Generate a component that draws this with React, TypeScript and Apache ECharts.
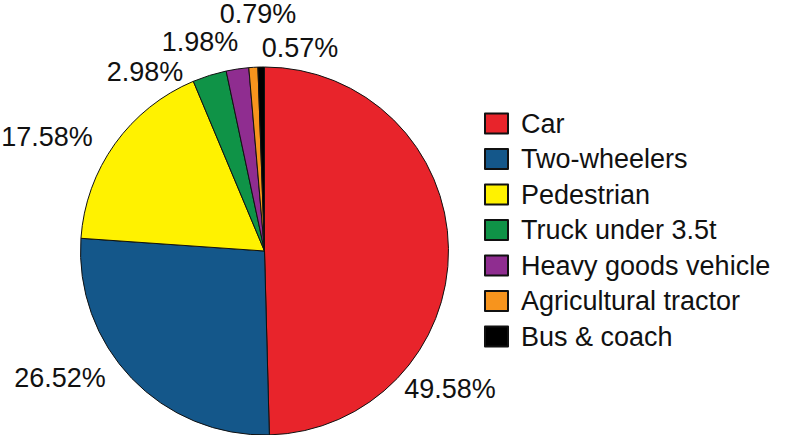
import React, { useEffect, useRef } from "react";
import * as echarts from "echarts";

const categories = [
  "Car",
  "Two-wheelers",
  "Pedestrian",
  "Truck under 3.5t",
  "Heavy goods vehicle",
  "Agricultural tractor",
  "Bus & coach",
];
const shares = [49.58, 26.52, 17.58, 2.98, 1.98, 0.79, 0.57];
const colors = ["#e8242b", "#14578a", "#fff200", "#0f9347", "#8f2d90", "#f7941d", "#000000"];

// label anchor points (pixel centers) for each slice's percentage text
const labelSpots: [number, number][] = [
  [450, 389],
  [60, 378],
  [47, 137],
  [145, 72],
  [200, 42],
  [258, 14],
  [300, 48],
];

export default function App() {
  const ref = useRef<HTMLDivElement>(null);
  useEffect(() => {
    if (!ref.current) return;
    const chart = echarts.init(ref.current, undefined, { renderer: "svg" });
    const font = "'Liberation Sans', Arial, Helvetica, sans-serif";
    chart.setOption({
      animation: false,
      backgroundColor: "#ffffff",
      legend: {
        orient: "vertical",
        left: 484,
        top: 110,
        padding: 0,
        itemWidth: 23,
        itemHeight: 20,
        itemGap: 8.5,
        icon: "rect",
        textStyle: { fontSize: 27, color: "#111", fontFamily: font, padding: [0, 0, 0, 8] },
        data: categories,
      },
      series: [
        {
          type: "pie",
          center: [264.5, 251],
          radius: 184,
          startAngle: 90,
          clockwise: true,
          silent: true,
          itemStyle: { borderColor: "#111", borderWidth: 1 },
          label: {
            show: true,
            fontSize: 27,
            color: "#111",
            fontFamily: font,
            overflow: "none",
            formatter: (p: any) => `${Number(p.value).toFixed(2)}%`,
          },
          labelLine: { show: false },
          labelLayout: (params: any) => {
            const s = labelSpots[params.dataIndex];
            return { x: s[0], y: s[1], align: "center", verticalAlign: "middle" };
          },
          data: categories.map((name, i) => ({
            name,
            value: shares[i],
            itemStyle: { color: colors[i] },
          })),
        },
      ],
    });
    return () => chart.dispose();
  }, []);
  return <div ref={ref} style={{ width: 801, height: 435, position: "absolute", left: 0, top: 0 }} />;
}
